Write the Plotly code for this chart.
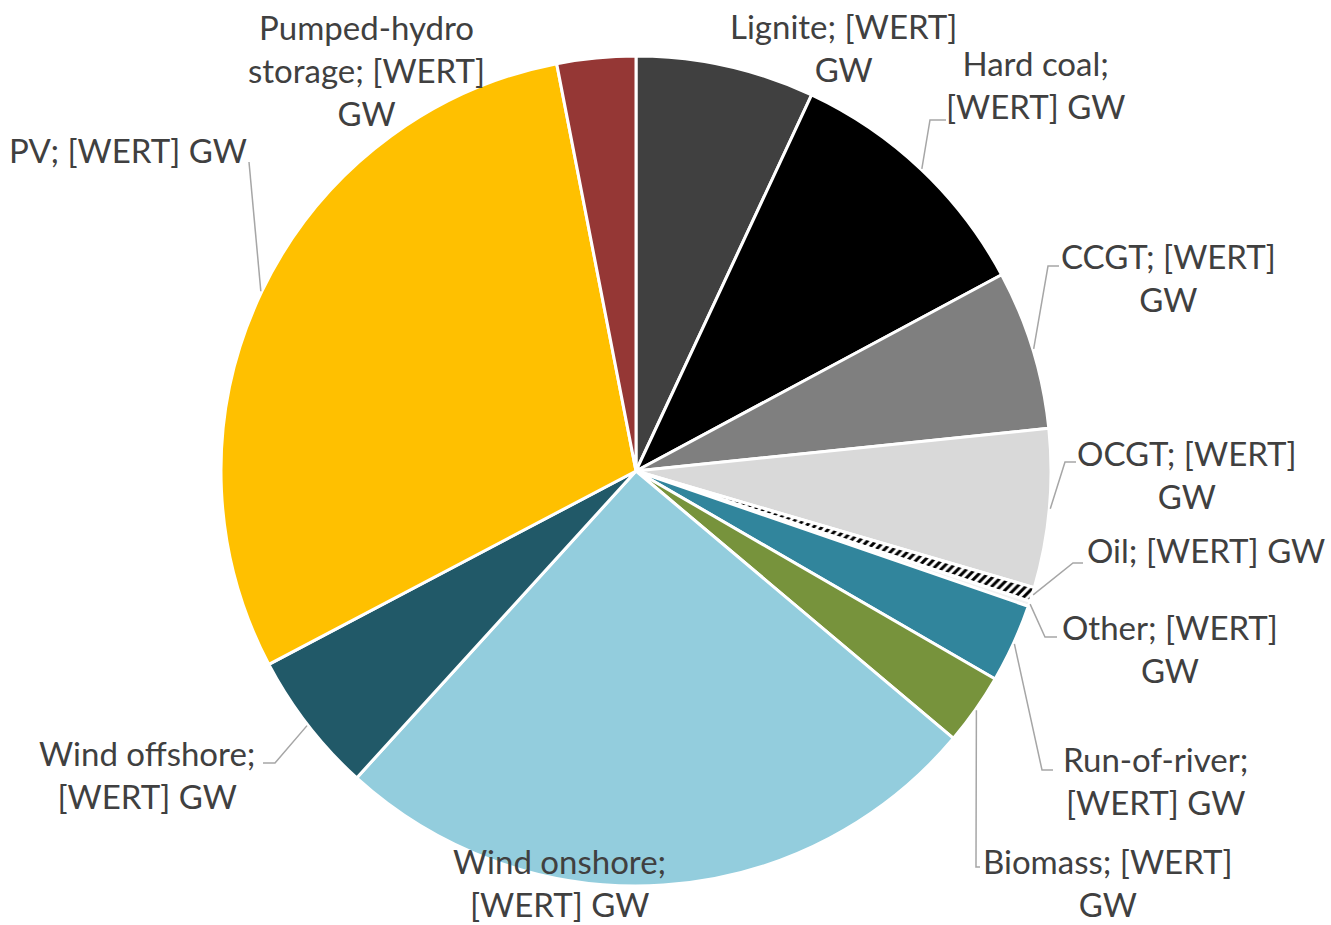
import math
import plotly.graph_objects as go

# Installed generation capacity by technology (GW), clockwise from 12 o'clock
categories = ["Lignite", "Hard coal", "CCGT", "OCGT", "Oil", "Other",
              "Run-of-river", "Biomass", "Wind onshore", "Wind offshore",
              "PV", "Pumped-hydro storage"]
capacity_gw = [6.95, 10.2, 6.2, 6.17, 0.55, 0.2,
               3.07, 2.78, 25.6, 5.53, 29.64, 3.06]
label_texts = ["Lignite; [WERT]<br>GW", "Hard coal;<br>[WERT] GW",
               "CCGT; [WERT]<br>GW", "OCGT; [WERT]<br>GW", "Oil; [WERT] GW",
               "Other; [WERT]<br>GW", "Run-of-river;<br>[WERT] GW",
               "Biomass; [WERT]<br>GW", "Wind onshore;<br>[WERT] GW",
               "Wind offshore;<br>[WERT] GW", "PV; [WERT] GW",
               "Pumped-hydro<br>storage; [WERT]<br>GW"]

colors = ["#404040", "#000000", "#7f7f7f", "#d9d9d9", "#ffffff", "#f2f2f2",
          "#31859c", "#77933c", "#93cddd", "#215968", "#ffc000", "#953735"]

# Page geometry in pixels
W, H = 1331, 925
CX, CY, R = 636, 471, 415

# Label placement: text centre and optional leader path (elbow, end) in pixels
label_layout = {
    "Lignite": ((844, 47), None),
    "Hard coal": ((1035, 85), [(930, 120), (946, 120)]),
    "CCGT": ((1168, 277), [(1048, 266), (1059, 266)]),
    "OCGT": ((1187, 474), [(1065, 462), (1076, 462)]),
    "Oil": ((1206, 550), [(1073, 563), (1083, 563)]),
    "Other": ((1170, 648), [(1045, 637), (1057, 637)]),
    "Run-of-river": ((1155, 780), [(1042, 770), (1053, 770)]),
    "Biomass": ((1108, 882), [(976, 867), (980, 867)]),
    "Wind onshore": ((559, 882), None),
    "Wind offshore": ((147, 774), [(275, 763), (263, 763)]),
    "PV": ((128, 150), [(249, 162)]),
    "Pumped-hydro storage": ((366, 70), None),
}


def px(x, y):
    return x / W, 1 - y / H


fig = go.Figure(go.Pie(
    labels=categories,
    values=capacity_gw,
    sort=False,
    direction="clockwise",
    rotation=0,
    textinfo="none",
    hoverinfo="label+value",
    marker=dict(
        colors=colors,
        line=dict(color="#ffffff", width=3),
        pattern=dict(
            shape=["", "", "", "", "/", "", "", "", "", "", "", ""],
            fgcolor="#000000",
            bgcolor="#ffffff",
            size=6,
            solidity=0.5,
        ),
    ),
    domain=dict(x=[(CX - R) / W, (CX + R) / W],
                y=[1 - (CY + R) / H, 1 - (CY - R) / H]),
    showlegend=False,
))

total = sum(capacity_gw)
annotations = []
shapes = []
cum = 0.0
for name, val, txt in zip(categories, capacity_gw, label_texts):
    mid = (cum + val / 2) / total * 2 * math.pi
    cum += val
    (tx, ty), leader = label_layout[name]
    ax, ay = px(tx, ty)
    annotations.append(dict(
        x=ax, y=ay, xref="paper", yref="paper", text=txt, showarrow=False,
        xanchor="center", yanchor="middle", align="center",
        font=dict(family="Lato", size=33, color="#404040"),
    ))
    if leader:
        sx = CX + (R + 1) * math.sin(mid)
        sy = CY - (R + 1) * math.cos(mid)
        pts = [(sx, sy)] + leader
        path = "M " + " L ".join(f"{px(x, y)[0]:.5f},{px(x, y)[1]:.5f}" for x, y in pts)
        shapes.append(dict(type="path", path=path, xref="paper", yref="paper",
                           line=dict(color="#a6a6a6", width=1.5)))

fig.update_layout(
    width=W, height=H,
    margin=dict(l=0, r=0, t=0, b=0),
    paper_bgcolor="#ffffff",
    plot_bgcolor="#ffffff",
    annotations=annotations,
    shapes=shapes,
)

fig.write_html("out.html")
